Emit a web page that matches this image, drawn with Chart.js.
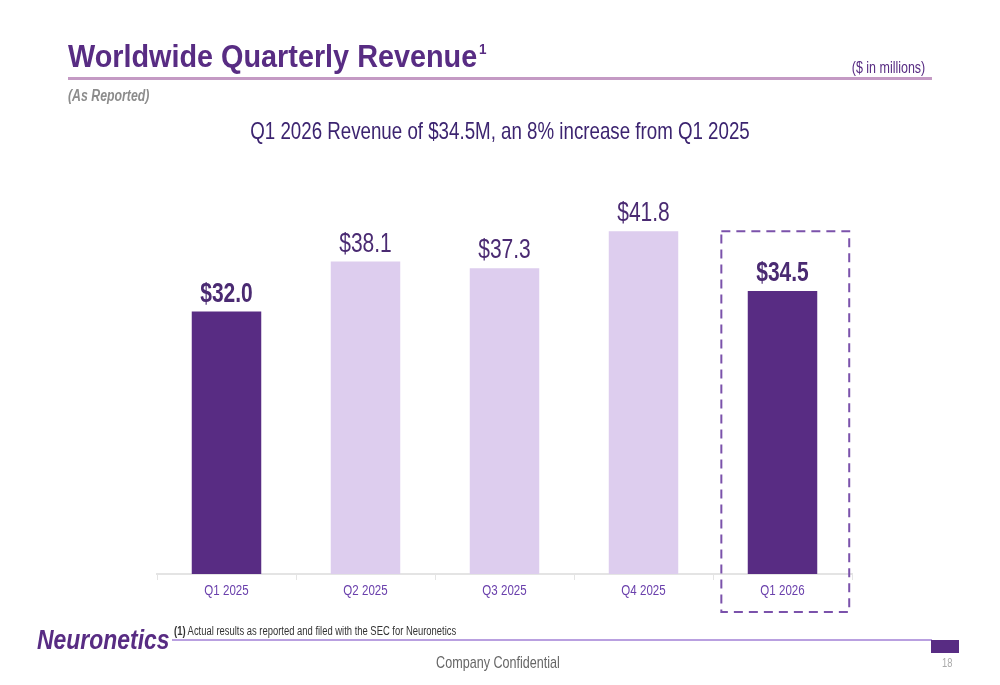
<!DOCTYPE html>
<html>
<head>
<meta charset="utf-8">
<script src="https://cdn.jsdelivr.net/npm/chart.js@4.4.1/dist/chart.umd.min.js"></script>
<style>
  body { margin: 0; background: #fff; font-family: "Liberation Sans", Arial, sans-serif; }
  .page { position: relative; width: 1000px; height: 685px; overflow: hidden; }
  #chart { position: absolute; left: 0; top: 0; }
  .txt { position: absolute; white-space: nowrap; transform-origin: left center; }
  .title { left: 68px; top: 38px; font-size: 32px; font-weight: bold; color: #582c83; transform: scaleX(0.9); }
  .title sup { font-size: 15px; vertical-align: 13px; margin-left: 2px; }
  .units { right: 75px; top: 59px; font-size: 16px; color: #582c83; transform: scaleX(0.78); transform-origin: right center; }
  .rule { position: absolute; left: 68px; top: 77px; width: 864px; height: 3px; background: #c49ac4; }
  .asrep { left: 68px; top: 87px; font-size: 16px; font-weight: bold; font-style: italic; color: #8c8c8c; transform: scaleX(0.77); }
  .sub { left: 0; width: 1000px; text-align: center; top: 117px; font-size: 24px; color: #3c2470; transform: scaleX(0.78); transform-origin: center center; }
  .logo { left: 37px; top: 625px; font-size: 27px; font-weight: bold; font-style: italic; color: #582c83; transform: scaleX(0.85); }
  .note { left: 174px; top: 624px; font-size: 12px; color: #333; transform: scaleX(0.785); }
  .fline { position: absolute; left: 172px; top: 639px; width: 760px; height: 2px; background: #b9a0e0; }
  .fbox { position: absolute; left: 931px; top: 640px; width: 28px; height: 13px; background: #582c83; }
  .conf { left: 0; width: 996px; text-align: center; top: 653px; font-size: 17px; color: #666; transform: scaleX(0.74); transform-origin: center center; }
  .pg { left: 942px; top: 656px; font-size: 12px; color: #aaa; transform: scaleX(0.78); }
</style>
</head>
<body>
<div class="page">
  <canvas id="chart" width="1000" height="685"></canvas>
  <div class="txt title">Worldwide Quarterly Revenue<sup>1</sup></div>
  <div class="txt units">($ in millions)</div>
  <div class="rule"></div>
  <div class="txt asrep">(As Reported)</div>
  <div class="txt sub">Q1 2026 Revenue of $34.5M, an 8% increase from Q1 2025</div>
  <div class="txt logo">Neuronetics</div>
  <div class="txt note"><b>(1)</b> Actual results as reported and filed with the SEC for Neuronetics</div>
  <div class="fline"></div>
  <div class="fbox"></div>
  <div class="txt conf">Company Confidential</div>
  <div class="txt pg">18</div>
</div>
<script>
// data
const quarters = ['Q1 2025', 'Q2 2025', 'Q3 2025', 'Q4 2025', 'Q1 2026'];
const revenue = [32.0, 38.1, 37.3, 41.8, 34.5];
const highlight = [true, false, false, false, true];

const darkPurple = '#582c83';
const lightPurple = '#ddcdee';
const fontFamily = '"Liberation Sans", Arial, sans-serif';

// no narrow font here, so squeeze the text
function narrowText(ctx, text, x, y, squeeze) {
    ctx.save();
    ctx.translate(x, y);
    ctx.scale(squeeze, 1);
    ctx.fillText(text, 0, 0);
    ctx.restore();
}

// value labels above the bars + category labels under the axis
const textLabels = {
    id: 'textLabels',
    afterDatasetsDraw(chart) {
        const ctx = chart.ctx;
        const bars = chart.getDatasetMeta(0).data;
        ctx.save();
        ctx.textAlign = 'center';
        ctx.textBaseline = 'alphabetic';
        bars.forEach((bar, i) => {
            ctx.font = (highlight[i] ? 'bold ' : '') + '28px ' + fontFamily;
            ctx.fillStyle = '#4a2a72';
            narrowText(ctx, '$' + revenue[i].toFixed(1), bar.x, bar.y - 10, 0.75);
        });
        ctx.font = '15px ' + fontFamily;
        ctx.fillStyle = '#6a40ac';
        ctx.textBaseline = 'middle';
        quarters.forEach((q, i) => {
            narrowText(ctx, q, chart.scales.x.getPixelForValue(i), chart.chartArea.bottom + 17, 0.77);
        });
        ctx.restore();
    }
};

// dashed box round the latest quarter
const currentBox = {
    id: 'currentBox',
    afterDraw(chart) {
        const x = chart.scales.x;
        const y = chart.scales.y;
        const last = quarters.length - 1;
        const step = x.getPixelForValue(1) - x.getPixelForValue(0);
        const cx = x.getPixelForValue(last);
        const top = y.getPixelForValue(41.8);
        const bottom = chart.chartArea.bottom + 38;
        const ctx = chart.ctx;
        ctx.save();
        ctx.strokeStyle = '#7b52ab';
        ctx.lineWidth = 2;
        ctx.setLineDash([9, 6]);
        ctx.strokeRect(cx - step * 0.44, top, step * 0.92, bottom - top);
        ctx.restore();
    }
};

const ctx = document.getElementById('chart').getContext('2d');
const chart = new Chart(ctx, {
    type: 'bar',
    data: {
        labels: quarters,
        datasets: [{
            data: revenue,
            backgroundColor: highlight.map(h => h ? darkPurple : lightPurple),
            borderWidth: 0,
            categoryPercentage: 1,
            barPercentage: 0.5
        }]
    },
    options: {
        responsive: false,
        animation: false,
        layout: { padding: { left: 157, right: 148, top: 164, bottom: 71 } },
        plugins: { legend: { display: false }, tooltip: { enabled: false } },
        scales: {
            x: {
                afterFit(scale) { scale.height = 40; },
                grid: { drawOnChartArea: false, drawTicks: true, tickLength: 6, color: '#e4e4e4' },
                border: { color: '#e4e4e4', width: 2 },
                ticks: { display: false }
            },
            y: {
                display: false,
                min: 0,
                max: 50
            }
        }
    },
    plugins: [textLabels, currentBox]
});
</script>
</body>
</html>
